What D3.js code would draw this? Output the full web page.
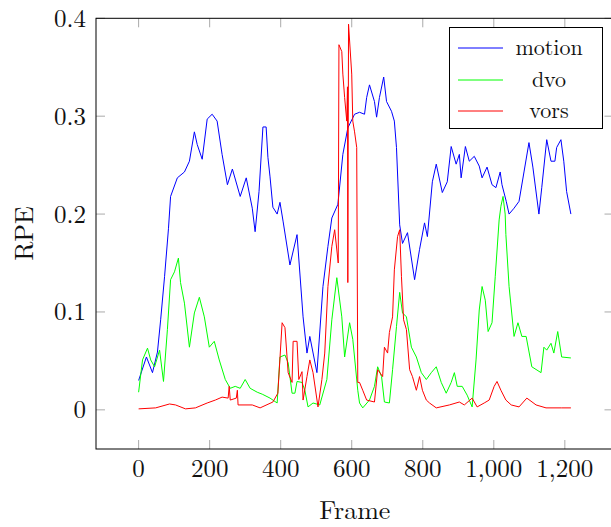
<!DOCTYPE html>
<html>
<head>
<meta charset="utf-8">
<script src="https://cdn.jsdelivr.net/npm/d3@7"></script>
<style>
  body { margin: 0; background: #fff; }
  text { font-family: "Latin Modern Roman", "CMU Serif", "Liberation Serif", serif; fill: #111; }
</style>
</head>
<body>
<script>
// values (frame, RPE)
const motionFrames = [0, 22, 39, 53, 62, 73, 84, 90, 109, 129, 143, 157, 165, 179, 193, 207, 221, 235, 250, 264, 286, 303, 320, 328, 339, 350, 359, 364, 370, 378, 390, 398, 407, 426, 446, 463, 474, 482, 502, 519, 533, 544, 561, 575, 589, 608, 622, 636, 642, 650, 664, 670, 678, 690, 698, 712, 720, 726, 735, 743, 757, 777, 791, 805, 813, 827, 838, 855, 869, 880, 894, 903, 908, 920, 931, 945, 959, 967, 981, 995, 1006, 1018, 1023, 1035, 1043, 1057, 1071, 1085, 1099, 1110, 1127, 1135, 1149, 1161, 1172, 1177, 1189, 1197, 1205, 1217];
const motionRPE = [0.03, 0.054, 0.038, 0.059, 0.092, 0.136, 0.185, 0.218, 0.237, 0.243, 0.254, 0.284, 0.271, 0.256, 0.297, 0.302, 0.295, 0.261, 0.23, 0.246, 0.218, 0.237, 0.206, 0.182, 0.223, 0.289, 0.289, 0.258, 0.238, 0.207, 0.2, 0.212, 0.192, 0.148, 0.179, 0.095, 0.058, 0.075, 0.038, 0.126, 0.167, 0.196, 0.21, 0.261, 0.288, 0.302, 0.304, 0.302, 0.319, 0.332, 0.315, 0.299, 0.319, 0.34, 0.315, 0.305, 0.295, 0.268, 0.189, 0.17, 0.181, 0.133, 0.164, 0.191, 0.177, 0.233, 0.251, 0.222, 0.233, 0.269, 0.251, 0.261, 0.237, 0.269, 0.254, 0.259, 0.249, 0.237, 0.248, 0.23, 0.227, 0.243, 0.23, 0.213, 0.2, 0.206, 0.213, 0.243, 0.273, 0.248, 0.2, 0.227, 0.276, 0.254, 0.254, 0.268, 0.276, 0.254, 0.223, 0.2];

const dvoFrames = [0, 11, 25, 34, 45, 59, 70, 81, 90, 101, 112, 118, 129, 143, 157, 171, 185, 199, 213, 227, 244, 258, 272, 286, 300, 314, 334, 348, 370, 390, 398, 412, 421, 432, 440, 446, 460, 468, 477, 491, 510, 530, 544, 558, 572, 580, 594, 603, 617, 622, 631, 650, 664, 673, 684, 692, 706, 715, 726, 735, 743, 754, 768, 782, 796, 810, 824, 838, 852, 866, 880, 889, 897, 911, 925, 939, 950, 959, 967, 976, 984, 995, 1004, 1015, 1020, 1026, 1032, 1034, 1043, 1057, 1068, 1079, 1091, 1107, 1133, 1141, 1149, 1161, 1169, 1180, 1191, 1217];
const dvoRPE = [0.018, 0.051, 0.063, 0.051, 0.044, 0.061, 0.029, 0.082, 0.133, 0.141, 0.155, 0.13, 0.109, 0.064, 0.099, 0.115, 0.095, 0.064, 0.07, 0.051, 0.031, 0.022, 0.024, 0.022, 0.031, 0.022, 0.018, 0.016, 0.012, 0.007, 0.054, 0.056, 0.048, 0.017, 0.017, 0.029, 0.028, 0.02, 0.003, 0.007, 0.005, 0.031, 0.092, 0.135, 0.095, 0.054, 0.089, 0.072, 0.02, 0.007, 0.002, 0.01, 0.024, 0.044, 0.034, 0.008, 0.007, 0.041, 0.085, 0.12, 0.099, 0.095, 0.064, 0.054, 0.038, 0.031, 0.038, 0.044, 0.028, 0.017, 0.028, 0.038, 0.024, 0.024, 0.015, 0.003, 0.051, 0.102, 0.126, 0.112, 0.08, 0.089, 0.136, 0.194, 0.208, 0.218, 0.2, 0.179, 0.126, 0.075, 0.089, 0.075, 0.075, 0.044, 0.038, 0.064, 0.061, 0.068, 0.058, 0.08, 0.054, 0.053];

const vorsFrames = [0, 48, 87, 104, 132, 160, 193, 216, 235, 252, 255, 258, 275, 278, 280, 320, 342, 378, 392, 404, 412, 421, 432, 435, 446, 451, 460, 463, 474, 482, 491, 505, 516, 524, 533, 544, 552, 562, 564, 572, 575, 580, 586, 588, 589, 591, 600, 603, 608, 614, 617, 622, 631, 642, 664, 673, 687, 692, 701, 706, 715, 720, 729, 735, 740, 746, 754, 763, 771, 782, 791, 799, 810, 819, 838, 875, 903, 917, 939, 953, 973, 987, 1001, 1009, 1020, 1034, 1049, 1071, 1093, 1119, 1147, 1191, 1217];
const vorsRPE = [0.001, 0.002, 0.006, 0.005, 0.001, 0.002, 0.007, 0.01, 0.013, 0.012, 0.024, 0.01, 0.012, 0.02, 0.005, 0.005, 0.002, 0.008, 0.017, 0.089, 0.084, 0.038, 0.028, 0.07, 0.07, 0.031, 0.039, 0.01, 0.034, 0.051, 0.038, 0.003, 0.031, 0.058, 0.126, 0.167, 0.184, 0.15, 0.373, 0.366, 0.343, 0.319, 0.295, 0.33, 0.13, 0.394, 0.343, 0.295, 0.284, 0.268, 0.028, 0.028, 0.02, 0.01, 0.008, 0.041, 0.034, 0.064, 0.058, 0.079, 0.095, 0.143, 0.177, 0.184, 0.136, 0.092, 0.082, 0.041, 0.034, 0.02, 0.034, 0.02, 0.01, 0.007, 0.002, 0.005, 0.008, 0.005, 0.012, 0.003, 0.007, 0.01, 0.024, 0.029, 0.02, 0.01, 0.005, 0.003, 0.012, 0.005, 0.002, 0.002, 0.002];

const xTicks = [0, 200, 400, 600, 800, 1000, 1200];
const yTicks = [0, 0.1, 0.2, 0.3, 0.4];

const series = [
  { name: "motion", color: "#0000ff", frames: motionFrames, values: motionRPE },
  { name: "dvo", color: "#00ff00", frames: dvoFrames, values: dvoRPE },
  { name: "vors", color: "#ff0000", frames: vorsFrames, values: vorsRPE }
];

const width = 611;
const height = 527;
const plotLeft = 96, plotRight = 613.5, plotTop = 18.3, plotBottom = 449;

const svg = d3.select("body").append("svg")
  .attr("width", width)
  .attr("height", height);

const x = d3.scaleLinear().domain([-120, 1337]).range([plotLeft, plotRight]);
const y = d3.scaleLinear().domain([-0.04, 0.4]).range([plotBottom, plotTop]);

// inner ticks on all four sides
const ticks = svg.append("g").attr("stroke", "#aaa").attr("stroke-width", 1);
xTicks.forEach(t => {
  ticks.append("line").attr("x1", x(t)).attr("x2", x(t)).attr("y1", plotBottom).attr("y2", plotBottom - 9);
  ticks.append("line").attr("x1", x(t)).attr("x2", x(t)).attr("y1", plotTop).attr("y2", plotTop + 9);
});
yTicks.forEach(t => {
  ticks.append("line").attr("x1", plotLeft).attr("x2", plotLeft + 9).attr("y1", y(t)).attr("y2", y(t));
  ticks.append("line").attr("x1", plotRight).attr("x2", plotRight - 9).attr("y1", y(t)).attr("y2", y(t));
});

const line = d3.line()
  .x(d => x(d[0]))
  .y(d => y(d[1]));

svg.append("g")
  .selectAll("path")
  .data(series)
  .enter().append("path")
  .attr("fill", "none")
  .attr("stroke", d => d.color)
  .attr("stroke-width", 1)
  .attr("stroke-linejoin", "round")
  .attr("d", d => line(d.frames.map((f, i) => [f, d.values[i]])));

svg.append("rect")
  .attr("x", plotLeft).attr("y", plotTop)
  .attr("width", plotRight - plotLeft).attr("height", plotBottom - plotTop)
  .attr("fill", "none")
  .attr("stroke", "#000")
  .attr("stroke-width", 1);

const fmt = d3.format(",");
svg.append("g")
  .selectAll("text")
  .data(xTicks)
  .enter().append("text")
  .attr("x", d => x(d))
  .attr("y", 477)
  .attr("text-anchor", "middle")
  .style("font-size", "25px")
  .text(d => fmt(d));

svg.append("g")
  .selectAll("text")
  .data(yTicks)
  .enter().append("text")
  .attr("x", 86)
  .attr("y", d => y(d))
  .attr("dy", "0.34em")
  .attr("text-anchor", "end")
  .style("font-size", "25px")
  .text(d => d === 0 ? "0" : d3.format(".1f")(d));

svg.append("text")
  .attr("x", (plotLeft + plotRight) / 2)
  .attr("y", 519)
  .attr("text-anchor", "middle")
  .style("font-size", "26px")
  .text("Frame");

svg.append("text")
  .attr("transform", `translate(${ 33 }, ${ 233.5 }) rotate(-90)`)
  .attr("text-anchor", "middle")
  .style("font-size", "26px")
  .text("RPE");

// legend
const legend = svg.append("g");
legend.append("rect")
  .attr("x", 449.5).attr("y", 27.5)
  .attr("width", 153).attr("height", 101)
  .attr("fill", "#fff")
  .attr("stroke", "#000")
  .attr("stroke-width", 1);

const legendY = [48, 80, 111];
series.forEach((s, i) => {
  legend.append("line")
    .attr("x1", 458).attr("x2", 503)
    .attr("y1", legendY[i]).attr("y2", legendY[i])
    .attr("stroke", s.color)
    .attr("stroke-width", 1);
  legend.append("text")
    .attr("x", 549)
    .attr("y", legendY[i])
    .attr("dy", "0.3em")
    .attr("text-anchor", "middle")
    .style("font-size", "22px")
    .text(s.name);
});
</script>
</body>
</html>
